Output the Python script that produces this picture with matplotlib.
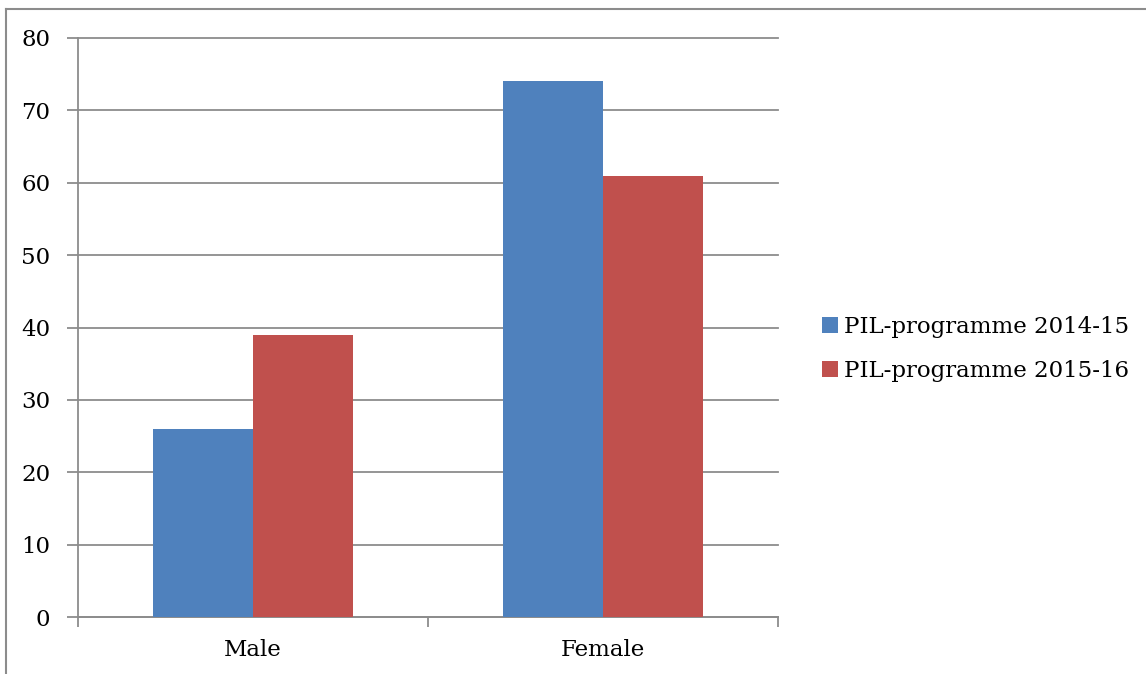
import matplotlib.pyplot as plt
import numpy as np

# data
categories = ["Male", "Female"]
series_names = ["PIL-programme 2014-15", "PIL-programme 2015-16"]
values_2014 = [26, 74]
values_2015 = [39, 61]
y_ticks = [0, 10, 20, 30, 40, 50, 60, 70, 80]

blue = "#4f81bd"
red = "#c0504d"
grid_col = "#8c8c8c"

plt.rcParams["font.family"] = ["DejaVu Serif"]

fig = plt.figure(figsize=(11.46, 6.74), dpi=100)
W, H = 1146, 674
# axes box in pixels: left 78, right 778, top 38, bottom 617
ax = fig.add_axes([78 / W, 1 - 617 / H, 700 / W, (617 - 38) / H])

x = np.arange(len(categories))
bw = 100 / 350
ax.bar(x - bw / 2, values_2014, bw, color=blue, label=series_names[0], zorder=3)
ax.bar(x + bw / 2, values_2015, bw, color=red, label=series_names[1], zorder=3)

ax.set_xlim(-0.5, 1.5)
ax.set_ylim(0, 80)
ax.set_yticks(y_ticks)
ax.yaxis.grid(True, color=grid_col, linewidth=1.3, zorder=0)
for gl in ax.get_ygridlines():
    gl.set_clip_on(False)
ax.set_xticks(x)
ax.set_xticklabels(categories)
ax.set_xticks([-0.5, 0.5, 1.5], minor=True)
ax.tick_params(axis="x", which="major", length=0, pad=16, labelsize=16.5)
ax.tick_params(axis="x", which="minor", length=7, width=1.3, color=grid_col)
ax.tick_params(axis="y", length=8, width=1.3, color=grid_col, pad=12, labelsize=16.5)

for s in ["top", "right"]:
    ax.spines[s].set_visible(False)
for s in ["left", "bottom"]:
    ax.spines[s].set_color(grid_col)
    ax.spines[s].set_linewidth(1.3)

ax.legend(loc="center left", bbox_to_anchor=(813 / W, 1 - 349 / H),
          bbox_transform=fig.transFigure, frameon=False, fontsize=16.5,
          handlelength=0.7, handleheight=0.7, handletextpad=0.25,
          labelspacing=0.95, borderaxespad=0)

# outer chart frame, cut off at right and bottom
fig.add_artist(plt.Line2D([6 / W, 6 / W], [0, 1 - 9 / H], transform=fig.transFigure,
                          color=grid_col, linewidth=1.5))
fig.add_artist(plt.Line2D([6 / W, 1], [1 - 9 / H, 1 - 9 / H], transform=fig.transFigure,
                          color=grid_col, linewidth=1.5))

fig.savefig("out.png", dpi=100)
